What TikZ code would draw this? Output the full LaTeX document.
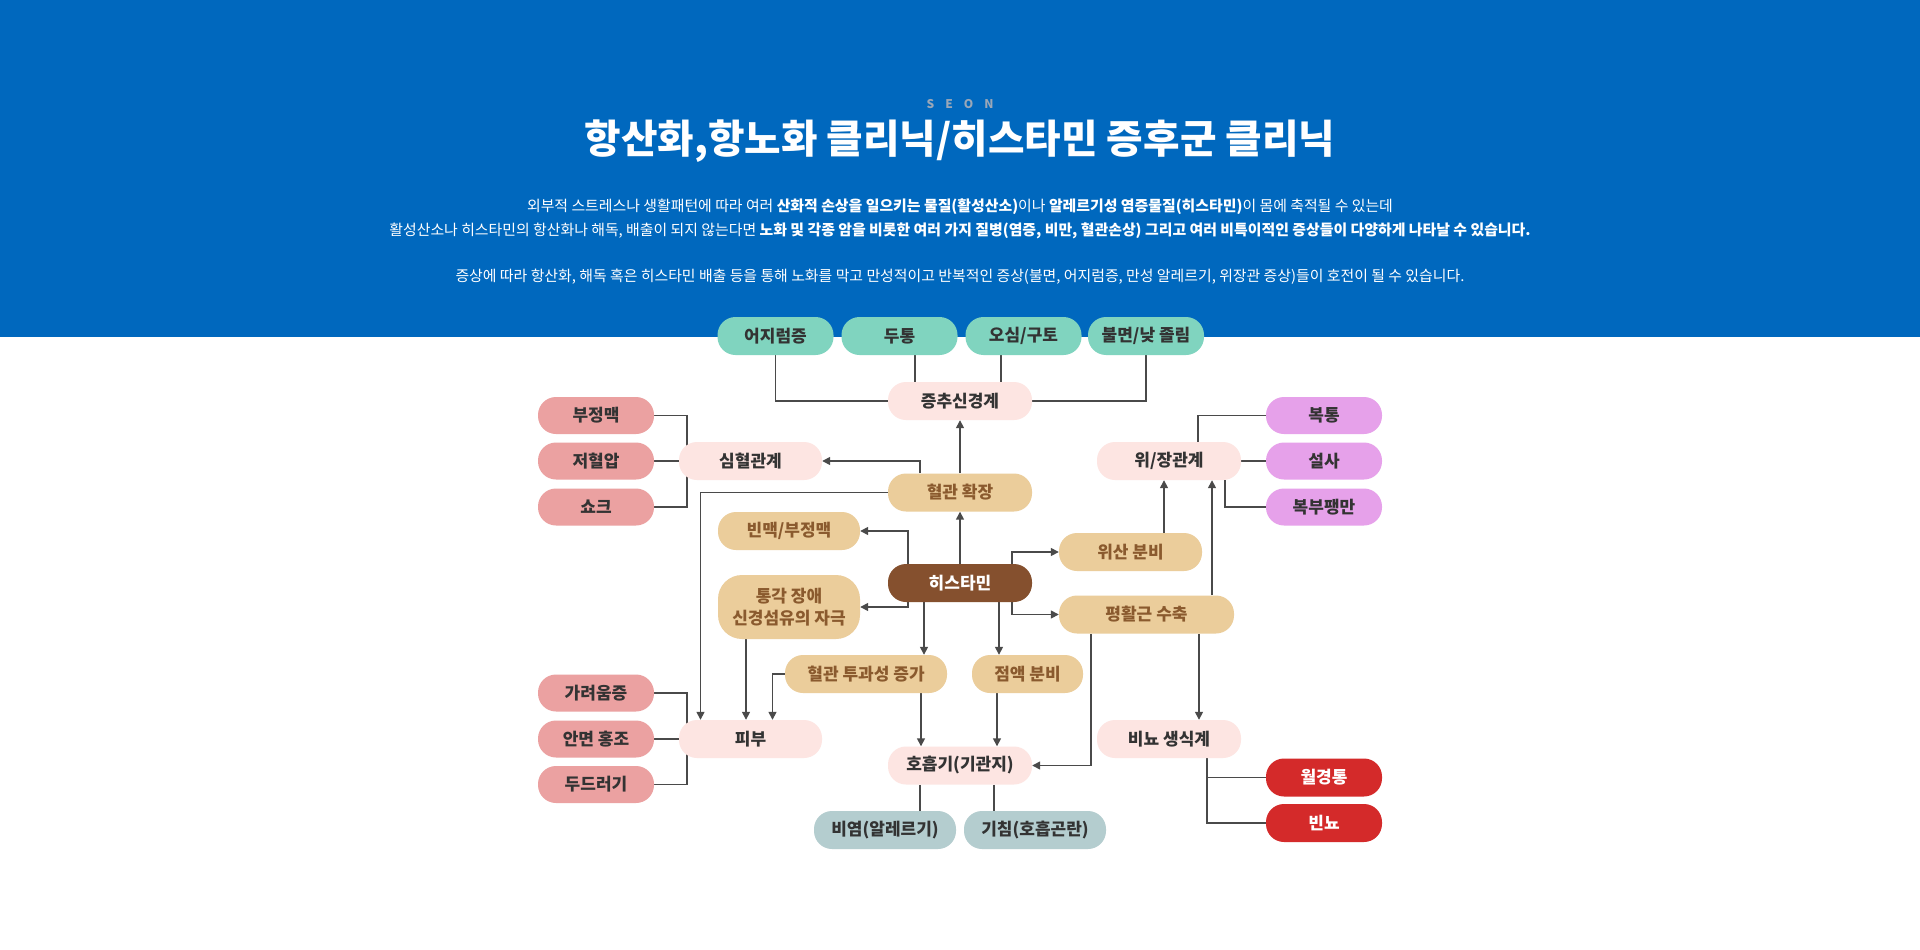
\documentclass[tikz,border=0pt]{standalone}
\usepackage{fontspec}
\setmainfont{Noto Sans CJK KR}
\usetikzlibrary{arrows.meta,backgrounds}
\definecolor{bgblue}{HTML}{0068BE}
\definecolor{cgreen}{HTML}{80D4BF}
\definecolor{cpr}{HTML}{EBA1A1}
\definecolor{clp}{HTML}{FDE5E2}
\definecolor{ctan}{HTML}{EBCD9B}
\definecolor{ctantxt}{HTML}{8A5A2E}
\definecolor{chist}{HTML}{85502E}
\definecolor{cpur}{HTML}{E6A1EA}
\definecolor{cred}{HTML}{D42A2A}
\definecolor{cgray}{HTML}{B4CDCF}
\definecolor{ctxt}{HTML}{333333}
\definecolor{cline}{HTML}{4A4A4A}
\definecolor{cseon}{HTML}{9AA7B8}
\tikzset{
  pill/.style={rectangle, rounded corners=18pt, minimum height=38pt, inner sep=0pt, align=center,
    font=\fontsize{17}{20}\selectfont\bfseries, text=ctxt},
  green/.style={pill, fill=cgreen, minimum width=116pt},
  pr/.style={pill, fill=cpr, minimum width=116pt, minimum height=37pt},
  lp/.style={pill, fill=clp, minimum width=144pt},
  tan/.style={pill, fill=ctan, text=ctantxt},
  hist/.style={pill, fill=chist, text=white, minimum width=144pt},
  pur/.style={pill, fill=cpur, minimum width=116pt, minimum height=37pt},
  redb/.style={pill, fill=cred, text=white, minimum width=116pt},
  grayb/.style={pill, fill=cgray, minimum width=142pt},
  conn/.style={draw=cline, line width=1.5pt},
  arr/.style={conn, -{Triangle[length=8pt,width=8pt]}},
  para/.style={text=white, font=\fontsize{14.9}{17}\selectfont, inner sep=0pt}
}
\begin{document}
\begin{tikzpicture}[x=1pt,y=-1pt]
\useasboundingbox (0,0) rectangle (1920,950);
\begin{scope}[on background layer]
\fill[white] (0,0) rectangle (1920,950);
\fill[bgblue] (0,0) rectangle (1920,337);
\end{scope}

% header
\node[text=cseon, font=\fontsize{12}{13}\selectfont\bfseries, inner sep=0pt] (seon) at (960,104) {S\hspace{11pt}E\hspace{11pt}O\hspace{11pt}N};
\node[text=white, font=\fontsize{39.7}{44}\selectfont\bfseries, inner sep=0pt] (title) at (960,141) {항산화,항노화 클리닉/히스타민 증후군 클리닉};
\node[para] (p1) at (960,207) {외부적 스트레스나 생활패턴에 따라 여러 \textbf{산화적 손상을 일으키는 물질(활성산소)}이나 \textbf{알레르기성 염증물질(히스타민)}이 몸에 축적될 수 있는데};
\node[para] (p2) at (960,231) {활성산소나 히스타민의 항산화나 해독, 배출이 되지 않는다면 \textbf{노화 및 각종 암을 비롯한 여러 가지 질병(염증, 비만, 혈관손상) 그리고 여러 비특이적인 증상들이 다양하게 나타날 수 있습니다.}};
\node[para] (p3) at (960,277) {증상에 따라 항산화, 해독 혹은 히스타민 배출 등을 통해 노화를 막고 만성적이고 반복적인 증상(불면, 어지럼증, 만성 알레르기, 위장관 증상)들이 호전이 될 수 있습니다.};

% nodes
\node[green] (g1) at (775.5,336) {어지럼증};
\node[green] (g2) at (899.5,336) {두통};
\node[green] (g3) at (1023.5,336) {오심/구토};
\node[green] (g4) at (1146,336) {불면/낮 졸림};

\node[lp] (cns) at (960,401) {증추신경계};
\node[lp, minimum width=143pt] (cv) at (750.5,461) {심혈관계};
\node[lp, minimum width=143pt] (skin) at (750.5,739) {피부};
\node[lp] (resp) at (960,765.5) {호흡기(기관지)};
\node[lp] (gi) at (1169,461) {위/장관계};
\node[lp] (uro) at (1169,739) {비뇨 생식계};

\node[pr] (a1) at (596,415.5) {부정맥};
\node[pr] (a2) at (596,461) {저혈압};
\node[pr] (a3) at (596,507) {쇼크};
\node[pr] (b1) at (596,693) {가려움증};
\node[pr] (b2) at (596,739) {안면 홍조};
\node[pr] (b3) at (596,784.5) {두드러기};

\node[tan, minimum width=144pt] (vd) at (960,492.5) {혈관 확장};
\node[tan, minimum width=142pt] (tachy) at (789,531) {빈맥/부정맥};
\node[tan, minimum width=142pt, minimum height=64pt, rounded corners=24pt, font=\fontsize{17}{22}\selectfont\bfseries] (pain) at (789,607) {통각 장애\\신경섬유의 자극};
\node[tan, minimum width=162pt] (perm) at (866,674) {혈관 투과성 증가};
\node[tan, minimum width=111pt] (mucus) at (1027.5,674) {점액 분비};
\node[tan, minimum width=143pt] (acid) at (1130.5,552) {위산 분비};
\node[tan, minimum width=175pt] (smooth) at (1146.5,614.5) {평활근 수축};

\node[hist] (hist) at (960,583) {히스타민};

\node[pur] (c1) at (1324,415.5) {복통};
\node[pur] (c2) at (1324,461) {설사};
\node[pur] (c3) at (1324,507) {복부팽만};

\node[redb] (r1) at (1324,777.5) {월경통};
\node[redb] (r2) at (1324,823) {빈뇨};

\node[grayb] (rh) at (885,830) {비염(알레르기)};
\node[grayb] (co) at (1035,830) {기침(호흡곤란)};

\coordinate (cvb) at (687,461);
\coordinate (skb) at (687,739);

\begin{scope}[on background layer]
% CNS
\draw[conn] (g1.south) |- (cns.west);
\draw[conn] ([xshift=-45pt]cns.north) -- ([xshift=-45pt]cns.north |- g2.south);
\draw[conn] ([xshift=41pt]cns.north) -- ([xshift=41pt]cns.north |- g3.south);
\draw[conn] (g4.south) |- (cns.east);
% cardio
\draw[conn] (a1.east) -| (cvb |- a3.east) -- (a3.east);
\draw[conn] (a2.east) -- (cv.west);
% skin
\draw[conn] (b1.east) -| (skb |- b3.east) -- (b3.east);
\draw[conn] (b2.east) -- (skin.west);
% vasodilation
\draw[arr] ([xshift=-40pt]vd.north) |- (cv.east);
\draw[arr] (vd.north) -- (cns.south);
\draw[arr] (vd.west) -| ([xshift=-50pt]skin.north);
% histamine
\draw[arr] (hist.north) -- (vd.south);
\draw[arr] ([xshift=-52pt]hist.north) |- (tachy.east);
\draw[arr] ([xshift=-52pt]hist.south) |- (pain.east);
\draw[arr] ([xshift=-36pt]hist.south) -- ([xshift=-36pt]hist.south |- perm.north);
\draw[arr] ([xshift=39pt]hist.south) -- ([xshift=39pt]hist.south |- mucus.north);
\draw[arr] ([xshift=52pt]hist.north) |- (acid.west);
\draw[arr] ([xshift=52pt]hist.south) |- (smooth.west);
% skin arrows
\draw[arr] ([xshift=-43pt]pain.south) -- ([xshift=-43pt]pain.south |- skin.north);
\draw[arr] (perm.west) -| ([xshift=22pt]skin.north);
% respiratory
\draw[arr] ([xshift=-39pt]resp.north |- perm.south) -- ([xshift=-39pt]resp.north);
\draw[arr] ([xshift=37pt]resp.north |- mucus.south) -- ([xshift=37pt]resp.north);
\draw[conn] ([xshift=-40pt]resp.south) -- ([xshift=-40pt]resp.south |- rh.north);
\draw[conn] ([xshift=34pt]resp.south) -- ([xshift=34pt]resp.south |- co.north);
\draw[arr] ([xshift=-55.5pt]smooth.south) |- (resp.east);
% GI and uro
\draw[arr] ([xshift=30pt]uro.north |- smooth.south) -- ([xshift=30pt]uro.north);
\draw[arr] ([xshift=43pt]gi.south |- smooth.north) -- ([xshift=43pt]gi.south);
\draw[arr] ([xshift=-5pt]gi.south |- acid.north) -- ([xshift=-5pt]gi.south);
\draw[conn] (c1.west) -| ([xshift=29pt]gi.north);
\draw[conn] (c2.west) -- (gi.east);
\draw[conn] ([xshift=56pt]gi.south) |- (c3.west);
\draw[conn] ([xshift=38pt]uro.south) |- (r1.west);
\draw[conn] ([xshift=38pt]uro.south) |- (r2.west);
\end{scope}
\end{tikzpicture}
\end{document}
